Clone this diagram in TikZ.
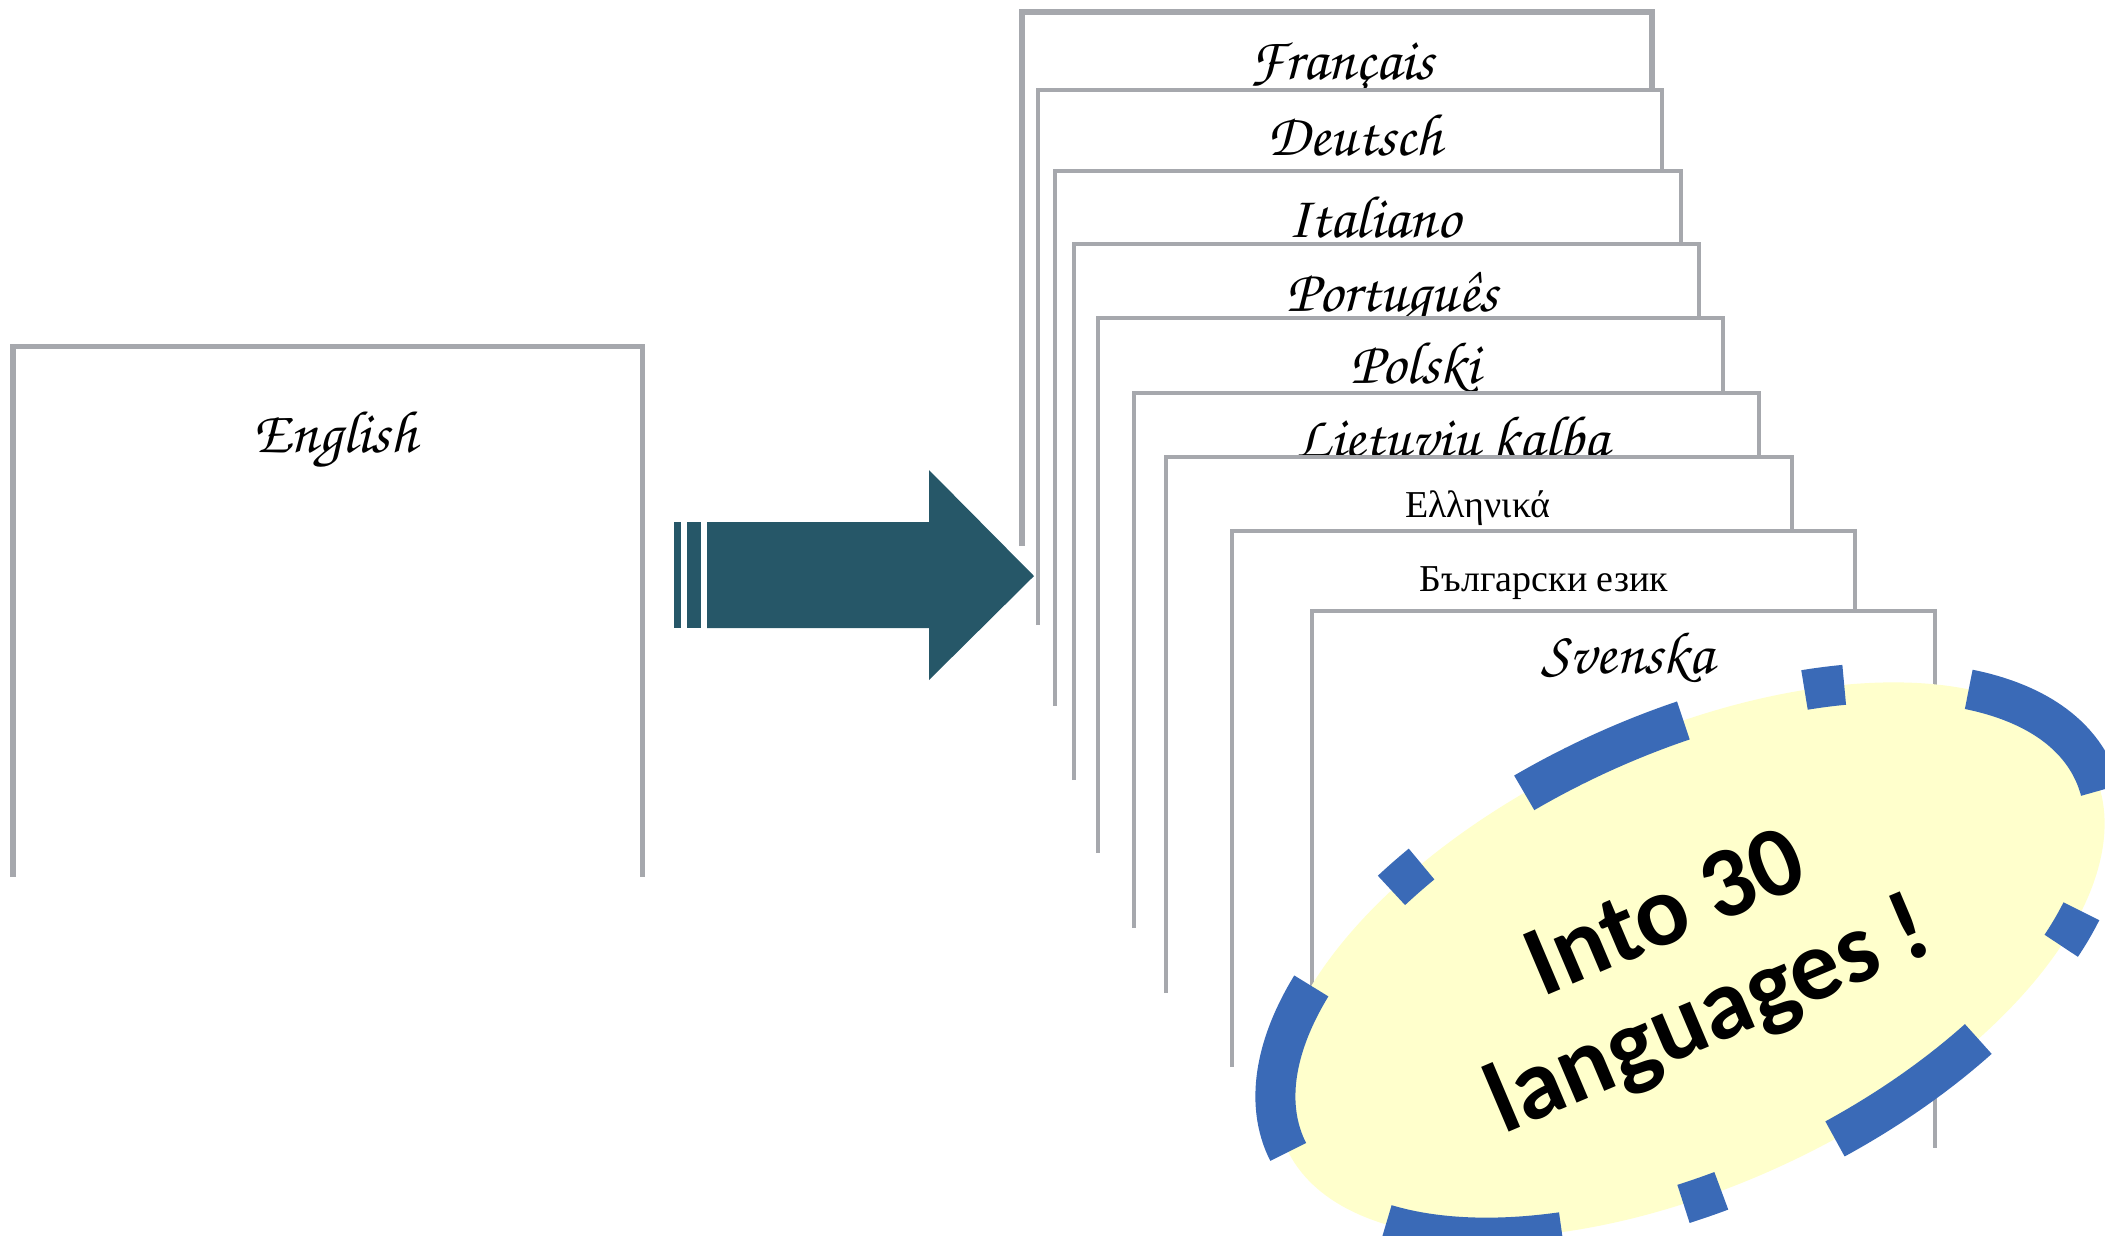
\documentclass[tikz,border=0pt]{standalone}
\usepackage[T1]{fontenc}
\usepackage{fontspec}
\usepackage{xcolor}
\newfontfamily\serifgr{Liberation Serif}
\newfontfamily\calloutfont{Carlito}
\newcommand\handwr{\fontencoding{T1}\fontfamily{pzc}\fontseries{mb}\fontshape{it}\selectfont}

\definecolor{pagegray}{RGB}{166,168,173}
\definecolor{arrowteal}{RGB}{38,87,104}
\definecolor{bubbleblue}{RGB}{58,106,183}
\definecolor{bubbleyellow}{RGB}{255,255,204}

\begin{document}
\begin{tikzpicture}[x=0.01cm,y=-0.01cm,
  pageline/.style={draw=pagegray,line width=0.04cm,fill=white},
  handlbl/.style={anchor=base,inner sep=0pt,font=\handwr\fontsize{17}{20}\selectfont},
  serlbl/.style={anchor=base,inner sep=0pt,font=\serifgr\fontsize{10.8}{13}\selectfont},
  bubble/.style={draw=bubbleblue,fill=bubbleyellow,line width=0.4cm,
    dash pattern=on 1.75cm off 1.25cm on 0.4cm off 1.25cm},
  calloutlbl/.style={align=center,font=\calloutfont\bfseries\fontsize{28.5}{31.5}\selectfont}]

\useasboundingbox (0,0) rectangle (2105,1235);
\clip (0,0) rectangle (2105,1235);

% Source page
\draw[pageline,line width=0.05cm] (13,877) -- (13,346) -- (642,346) -- (642,877);
\node[handlbl] (en) at (335,452) {English};

% Big arrow
\fill[arrowteal] (674,522) rectangle (681,628);
\fill[arrowteal] (687,522) rectangle (701,628);
\fill[arrowteal] (707,522) -- (929,522) -- (929,470) -- (1034,576) -- (929,680) -- (929,628) -- (707,628) -- cycle;

% Stack of pages, back to front
\draw[pageline,line width=0.06cm] (1022,546) -- (1022,12) -- (1652,12) -- (1652,546);
\node[handlbl] (fr) at (1342,79) {Français};
\draw[pageline] (1038,625) -- (1038,90) -- (1662,90) -- (1662,625);
\node[handlbl] (de) at (1355,155) {Deutsch};
\draw[pageline] (1055,706) -- (1055,171) -- (1681,171) -- (1681,706);
\node[handlbl] (it) at (1374,237) {Italiano};
\draw[pageline] (1074,780) -- (1074,244) -- (1699,244) -- (1699,780);
\node[handlbl] (pt) at (1392,311) {Português};
\draw[pageline] (1098,853) -- (1098,318) -- (1723,318) -- (1723,853);
\node[handlbl] (pl) at (1415,383) {Polski};
\draw[pageline] (1134,928) -- (1134,393) -- (1759,393) -- (1759,928);
\node[handlbl] (lt) at (1452,457) {Lietuviu kalba};
\draw[pageline] (1166,993) -- (1166,457) -- (1792,457) -- (1792,993);
\node[serlbl] (el) at (1478,517) {Ελληνικά};
\draw[pageline] (1232,1067) -- (1232,531) -- (1855,531) -- (1855,1067);
\node[serlbl] (bg) at (1544,591) {Български език};
\draw[pageline] (1312,1148) -- (1312,611) -- (1935,611) -- (1935,1148);
\node[handlbl] (sv) at (1628,673) {Svenska};

% Callout
\begin{scope}[shift={(1690,960)},rotate=25]
\draw[bubble] (210:4.45cm and 2.25cm) arc[start angle=210,delta angle=360,x radius=4.45cm,y radius=2.25cm];
\end{scope}
\node[calloutlbl,rotate=23] (note) at (1689,969) {Into 30\\languages !};

\end{tikzpicture}
\end{document}
